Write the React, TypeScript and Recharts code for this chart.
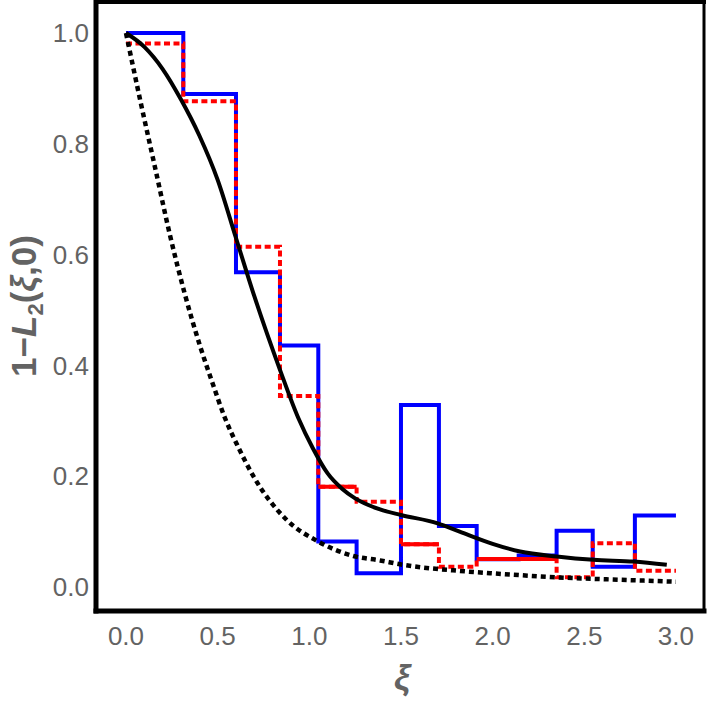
import React from 'react';
import { ComposedChart, Line, XAxis, YAxis, ReferenceLine } from 'recharts';

// Histogram bin edges (shared by both step series)
const binEdges = [0, 0.3126, 0.6, 0.84, 1.049, 1.258, 1.5, 1.707, 1.913, 2.142, 2.349, 2.546, 2.776, 3.0];
// Blue solid histogram values per bin
const blueValues = [1.0, 0.89, 0.568, 0.436, 0.082, 0.025, 0.3285, 0.11, 0.05, 0.057, 0.1017, 0.0367, 0.129];
// Red dashed histogram values per bin
const redValues = [0.981, 0.877, 0.614, 0.345, 0.181, 0.154, 0.077, 0.0367, 0.0505, 0.0505, 0.0175, 0.079, 0.0294];
// Red segments that are drawn solid
const redSolidStarts = [1.049, 1.5, 1.913];
const redSolidEnds = [1.258, 1.707, 2.349];
const redSolidValues = [0.181, 0.077, 0.0505];

// Black solid curve
const solidXi = [0, 0.1, 0.2, 0.3, 0.4, 0.5, 0.6, 0.7, 0.84, 0.94, 1.02, 1.1, 1.18, 1.25, 1.386, 1.5, 1.7, 1.82, 2.0, 2.15, 2.35, 2.55, 2.77, 2.95];
const solidVal = [1.0, 0.975, 0.935, 0.88, 0.815, 0.735, 0.63, 0.525, 0.392, 0.305, 0.25, 0.205, 0.177, 0.16, 0.14, 0.13, 0.115, 0.1, 0.078, 0.064, 0.055, 0.049, 0.046, 0.04];

// Black dotted curve
const dottedXi = [0, 0.08, 0.16, 0.24, 0.32, 0.404, 0.47, 0.54, 0.613, 0.695, 0.877, 1.049, 1.24, 1.386, 1.495, 1.822, 1.986, 2.35, 2.7, 3.0];
const dottedVal = [1.0, 0.875, 0.755, 0.635, 0.53, 0.435, 0.37, 0.305, 0.252, 0.2, 0.121, 0.082, 0.056, 0.048, 0.041, 0.029, 0.025, 0.0175, 0.013, 0.0096];

const xTicks = [0, 0.5, 1.0, 1.5, 2.0, 2.5, 3.0];
const yTicks = [0, 0.2, 0.4, 0.6, 0.8, 1.0];

const xDomain = [-0.1636, 3.153];
const yDomain = [-0.0433, 1.056];

const FONT = '"Liberation Sans", Arial, sans-serif';
const GRAY = '#636363';

const stepData = (vals: number[]) =>
  binEdges.map((x, i) => ({ x, y: vals[Math.min(i, vals.length - 1)] }));

const blueData = stepData(blueValues);
const redData = stepData(redValues);
const redSolidData: { x: number; y: number | null }[] = [];
redSolidStarts.forEach((s, i) => {
  redSolidData.push({ x: s, y: redSolidValues[i] });
  redSolidData.push({ x: redSolidEnds[i], y: redSolidValues[i] });
  if (i < redSolidStarts.length - 1) redSolidData.push({ x: redSolidEnds[i], y: null });
});
const solidData = solidXi.map((x, i) => ({ x, y: solidVal[i] }));
const dottedData = dottedXi.map((x, i) => ({ x, y: dottedVal[i] }));

const YLabel = () => (
  <text
    x={36}
    y={306}
    transform="rotate(-90 36 306)"
    textAnchor="middle"
    fill={GRAY}
    fontSize={35}
    fontWeight="bold"
    fontFamily={FONT}
  >
    1−<tspan fontStyle="italic">L</tspan>
    <tspan fontSize={22} dy={7}>2</tspan>
    <tspan dy={-7}>(</tspan>
    <tspan fontStyle="italic">ξ</tspan>,0)
  </text>
);

const XLabel = () => (
  <text
    x={402}
    y={690}
    textAnchor="middle"
    fill={GRAY}
    fontSize={36}
    fontWeight="bold"
    fontStyle="italic"
    fontFamily={FONT}
  >
    ξ
  </text>
);

const frameLine = (w: number) => ({ stroke: '#000', strokeWidth: w, strokeLinecap: 'square' as const });

export default function App() {
  return (
    <div style={{ position: 'absolute', left: 0, top: 0, width: 709, height: 702, background: '#fff' }}>
      <ComposedChart width={709} height={702} margin={{ top: 2, right: 5, bottom: 0, left: 0 }}>
        <XAxis
          dataKey="x"
          type="number"
          domain={xDomain}
          allowDataOverflow
          ticks={xTicks}
          tickFormatter={(v: number) => v.toFixed(1)}
          height={91}
          tickSize={0}
          tickLine={false}
          tickMargin={16}
          axisLine={frameLine(5)}
          tick={{ fill: GRAY, fontSize: 26, fontFamily: FONT }}
          label={<XLabel />}
        />
        <YAxis
          type="number"
          domain={yDomain}
          allowDataOverflow
          ticks={yTicks}
          tickFormatter={(v: number) => v.toFixed(1)}
          width={96}
          tickSize={0}
          tickLine={false}
          tickMargin={7}
          axisLine={frameLine(5)}
          tick={{ fill: GRAY, fontSize: 26, fontFamily: FONT }}
          label={<YLabel />}
        />
        <ReferenceLine y={yDomain[1]} stroke="#000" strokeWidth={4} strokeLinecap="square" />
        <ReferenceLine x={xDomain[1]} stroke="#000" strokeWidth={3} strokeLinecap="square" />
        <Line
          data={blueData}
          dataKey="y"
          type="stepAfter"
          stroke="#0000ff"
          strokeWidth={4}
          dot={false}
          activeDot={false}
          isAnimationActive={false}
        />
        <Line
          data={redData}
          dataKey="y"
          type="stepAfter"
          stroke="#ff0000"
          strokeWidth={4}
          strokeDasharray="6 3.5"
          dot={false}
          activeDot={false}
          isAnimationActive={false}
        />
        <Line
          data={redSolidData}
          dataKey="y"
          type="linear"
          stroke="#ff0000"
          strokeWidth={4}
          connectNulls={false}
          dot={false}
          activeDot={false}
          isAnimationActive={false}
        />
        <Line
          data={solidData}
          dataKey="y"
          type="monotone"
          stroke="#000000"
          strokeWidth={4}
          dot={false}
          activeDot={false}
          isAnimationActive={false}
        />
        <Line
          data={dottedData}
          dataKey="y"
          type="monotone"
          stroke="#000000"
          strokeWidth={4.5}
          strokeDasharray="5 4"
          dot={false}
          activeDot={false}
          isAnimationActive={false}
        />
      </ComposedChart>
    </div>
  );
}
